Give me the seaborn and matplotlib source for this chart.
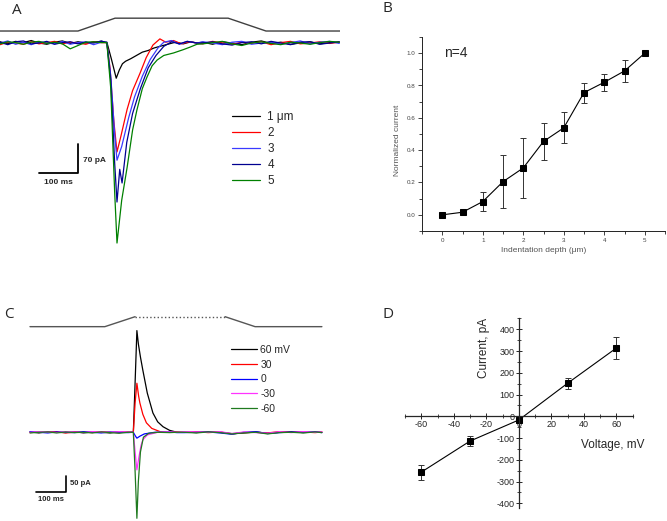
import numpy as np
import pandas as pd
import seaborn as sns
import matplotlib.pyplot as plt

sns.set_style("ticks")
plt.rcParams['font.family'] = ['Liberation Sans', 'DejaVu Sans']
plt.rcParams['axes.unicode_minus'] = False

# ---------------- Panel A: traces at 5 indentation depths (ms, pA)
a_pre_t = [0, 20, 40, 60, 80, 100, 120, 140, 160, 180, 200, 220, 240, 260]
a_post_t = [520, 545, 570, 595, 620, 645, 670, 695, 720, 745, 770, 795, 820, 845, 870]

a_labels = ['1 \u03bcm', '2', '3', '4', '5']
a_colors = ['#000000', '#ff0000', '#3a3aff', '#000090', '#008000']

a_pre = [
    [3, -2, 4, 1, 6, 0, -3, 2, 5, -1, 3, 0, 2, 4],
    [-4, 2, 0, -3, 3, -2, 1, 4, -2, 2, 0, -3, 3, 1],
    [0, 5, -3, 2, -4, 3, 0, -2, 4, -3, 1, 3, -4, 2],
    [2, -4, 3, 5, -2, 0, 4, -3, 1, 3, -2, 2, 0, 5],
    [-2, 3, 1, -3, 2, 4, -1, 2, -2, -14, -6, 2, 3, 1],
]
a_trans_t = [
    [274, 286, 298, 306, 314, 322, 335, 350, 365, 380, 395, 410, 430, 450, 470, 490, 505],
    [274, 282, 292, 300, 310, 326, 340, 359, 375, 392, 410, 425, 445, 465, 485, 505],
    [274, 284, 294, 300, 312, 330, 345, 365, 385, 405, 420, 440, 460, 480, 505],
    [274, 284, 294, 300, 307, 313, 325, 340, 360, 380, 400, 420, 440, 460, 480, 505],
    [274, 284, 294, 300, 312, 326, 340, 351, 365, 377, 390, 403, 420, 445, 470, 487, 505],
]
a_trans_i = [
    [2, -40, -85, -65, -50, -44, -38, -30, -22, -18, -12, -8, -3, 2, -2, 3, 0],
    [1, -60, -190, -263, -225, -160, -115, -73, -35, -5, 10, 2, 6, -2, 3, 0],
    [2, -80, -220, -283, -250, -180, -130, -80, -40, -12, 2, 6, -3, 4, 0],
    [0, -90, -290, -384, -305, -338, -240, -170, -110, -60, -30, -8, 3, -2, 4, 0],
    [1, -110, -360, -483, -380, -300, -210, -162, -110, -82, -55, -41, -30, -24, -16, -10, -3],
]
a_post = [
    [2, -3, 3, 0, -4, 2, 5, -1, 2, -3, 0, 3, -2, 1, 2],
    [-2, 4, 0, -3, 2, -1, 3, -4, 1, 4, -2, 0, 3, -1, 2],
    [3, 0, -4, 2, 4, -3, 0, 2, -3, 1, 5, -2, 2, 4, -1],
    [0, 3, -2, -5, 1, 3, -2, 4, 0, -4, 2, 3, -3, 0, 3],
    [-2, 1, 4, -2, -6, 0, 3, -1, -4, 2, 0, -3, 1, 4, 2],
]
a_stim_t = [0, 200, 295, 585, 682, 872]
a_stim = [29, 29, 60, 60, 29, 29]

# ---------------- Panel B: normalized current vs indentation depth
b_depth = [0, 0.5, 1, 1.5, 2, 2.5, 3, 3.5, 4, 4.5, 5]
b_mean = [0.0, 0.016, 0.082, 0.205, 0.29, 0.454, 0.538, 0.756, 0.82, 0.89, 1.0]
b_err = [0.0, 0.01, 0.058, 0.165, 0.185, 0.117, 0.095, 0.062, 0.052, 0.068, 0.0]

# ---------------- Panel C: traces at 5 holding potentials (ms, pA)
c_pre_t = [0, 30, 60, 90, 120, 150, 180, 210, 240, 270, 300, 330]
c_post_t = [520, 560, 600, 640, 680, 720, 760, 800, 840, 880, 920, 960, 983]

c_labels = ['60 mV', '30', '0', '-30', '-60']
c_colors = ['#000000', '#ff0000', '#0000ff', '#ff33ff', '#1f7a1f']

c_pre = [
    [1, -2, 2, 0, -1, 2, -2, 1, 0, -2, 2, 0],
    [-1, 1, 0, 2, -2, 0, 1, -1, 2, 0, -1, 1],
    [2, 0, -2, 1, 0, -1, 2, 0, -2, 1, 0, -1],
    [0, 2, 1, -1, 2, 1, -1, 2, 1, 0, 2, 1],
    [-2, 0, 1, -2, 1, -1, 0, -2, 1, -1, -3, 0],
]
c_trans_t = [
    [348, 352, 360, 365, 372, 380, 395, 414, 430, 448, 470, 495],
    [348, 354, 360, 366, 370, 380, 392, 410, 438, 470, 495],
    [348, 354, 360, 370, 385, 420, 470, 495],
    [348, 354, 360, 366, 374, 380, 395, 430, 470, 495],
    [348, 354, 360, 365, 372, 382, 400, 430, 470, 495],
]
c_trans_i = [
    [0, 100, 311, 270, 230, 190, 120, 59, 32, 17, 6, 0],
    [0, 90, 150, 110, 90, 55, 29, 12, 2, 0, 1],
    [0, -10, -18, -12, -5, 0, 1, -1],
    [0, -60, -115, -80, -40, -23, -8, 0, 1, 0],
    [0, -120, -263, -150, -60, -15, -3, 0, -1, 0],
]
c_post = [
    [1, -1, 2, 0, -4, -2, 1, -3, 0, 2, -1, 1, 0],
    [0, 2, -1, 1, -5, -1, 0, -2, 2, 0, 1, -1, 1],
    [-1, 0, 1, -2, -6, 0, 2, -4, -1, 1, 0, 2, -1],
    [2, 1, 0, 2, -4, 1, -1, -3, 2, -1, 2, 0, 1],
    [0, -2, 1, -1, -5, -2, 0, -5, -1, 0, -2, 1, -1],
]
c_stim_t = [0, 252, 354, 657, 758, 983]
c_stim = [323, 323, 353.5, 353.5, 323, 323]

# ---------------- Panel D: I-V relation
d_volt = [-60, -30, 0, 30, 60]
d_curr = [-257, -114, -17, 152, 314]
d_err = [35, 23, 0, 26, 51]

W, H = 667, 521
fig = plt.figure(figsize=(W / 100, H / 100), dpi=100)


def rect(left, top, right, bottom):
    return [left / W, 1 - bottom / H, (right - left) / W, (bottom - top) / H]


def trace_df(pre_t, pre, tt, ti, post_t, post):
    return pd.DataFrame({'t': list(pre_t) + list(tt) + list(post_t),
                         'i': list(pre) + list(ti) + list(post)})


# ---- A
axA = fig.add_axes(rect(0, 0, 340, 260))
sns.lineplot(x=a_stim_t, y=a_stim, ax=axA, color='#404040', lw=1.0)
for k in range(5):
    d = trace_df(a_pre_t, a_pre[k], a_trans_t[k], a_trans_i[k], a_post_t, a_post[k])
    sns.lineplot(data=d, x='t', y='i', ax=axA, color=a_colors[k], lw=0.9,
                 sort=False, estimator=None, label=a_labels[k])
axA.plot([100, 200, 200], [-314, -314, -244], color='black', lw=1.3)
axA.text(213, -283, '70 pA', fontsize=6, fontweight='bold', va='center', ha='left')
axA.text(151, -338, '100 ms', fontsize=6, fontweight='bold', va='center', ha='center')
axA.set_xlim(0, 871.8)
axA.set_ylim(-524, 103.9)
axA.axis('off')
axA.legend(loc='upper left', bbox_to_anchor=(232 / 340, 1 - 111 / 260), frameon=False,
           fontsize=8.5, handlelength=2.4, handletextpad=0.6, labelspacing=0.34,
           borderpad=0, borderaxespad=0)

# ---- B
axB = fig.add_axes(rect(422, 37, 665, 231))
axB.errorbar(b_depth, b_mean, yerr=b_err, fmt='none', ecolor='#333333', elinewidth=0.7,
             capsize=2.5, capthick=0.7)
sns.lineplot(x=b_depth, y=b_mean, ax=axB, color='black', lw=0.8, marker='s',
             markersize=4, markeredgecolor='black')
axB.set_xlim(-0.5, 5.5)
axB.set_ylim(-0.1, 1.1)
axB.set_xticks([0, 1, 2, 3, 4, 5])
axB.set_xticks([-0.5, 0.5, 1.5, 2.5, 3.5, 4.5, 5.5], minor=True)
axB.set_yticks([0.0, 0.2, 0.4, 0.6, 0.8, 1.0])
axB.set_yticks([-0.1, 0.1, 0.3, 0.5, 0.7, 0.9, 1.1], minor=True)
axB.yaxis.set_major_formatter(plt.FormatStrFormatter('%.1f'))
axB.tick_params(which='major', length=3, width=0.6, labelsize=4.5, labelcolor='#444444',
                color='#222222', pad=2)
axB.tick_params(which='minor', length=2, width=0.6, color='#222222')
for s in ['top', 'right']:
    axB.spines[s].set_visible(False)
for s in ['left', 'bottom']:
    axB.spines[s].set_linewidth(0.7)
    axB.spines[s].set_color('#222222')
axB.set_xlabel('Indentation depth (\u03bcm)', fontsize=6, color='#555555', labelpad=3)
axB.set_ylabel('Normalized current', fontsize=6, color='#555555')
axB.yaxis.set_label_coords(-0.088, 0.47)
axB.text(0.05, 1.0, 'n=4', fontsize=10, va='center', ha='left')

# ---- C
axC = fig.add_axes(rect(0, 280, 340, 521))
sns.lineplot(x=c_stim_t[:3], y=c_stim[:3], ax=axC, color='#555555', lw=1.0)
sns.lineplot(x=c_stim_t[2:4], y=c_stim[2:4], ax=axC, color='#555555', lw=1.0, linestyle=':')
sns.lineplot(x=c_stim_t[3:], y=c_stim[3:], ax=axC, color='#555555', lw=1.0)
for k in range(5):
    d = trace_df(c_pre_t, c_pre[k], c_trans_t[k], c_trans_i[k], c_post_t, c_post[k])
    sns.lineplot(data=d, x='t', y='i', ax=axC, color=c_colors[k], lw=0.9,
                 sort=False, estimator=None, label=c_labels[k])
axC.plot([20.2, 120.2, 120.2], [-183.5, -183.5, -133.5], color='black', lw=1.2)
axC.text(134.7, -158, '50 pA', fontsize=5.5, fontweight='bold', va='center', ha='left')
axC.text(70, -207, '100 ms', fontsize=5.5, fontweight='bold', va='center', ha='center')
axC.set_xlim(-101, 1044)
axC.set_ylim(-271.3, 465.7)
axC.axis('off')
axC.legend(loc='upper left', bbox_to_anchor=(231 / 340, (521 - 345) / 241), frameon=False,
           fontsize=7.5, handlelength=2.5, handletextpad=0.3, labelspacing=0.45,
           borderpad=0, borderaxespad=0)

# ---- D
axD = fig.add_axes(rect(405, 318.4, 632.7, 507.6))
axD.errorbar(d_volt, d_curr, yerr=d_err, fmt='none', ecolor='#333333', elinewidth=0.7,
             capsize=2.5, capthick=0.7)
sns.lineplot(x=d_volt, y=d_curr, ax=axD, color='black', lw=0.8, marker='s',
             markersize=4, markeredgecolor='black')
axD.set_xlim(-70, 70)
axD.set_ylim(-420, 450)
axD.spines['left'].set_position(('data', 0))
axD.spines['bottom'].set_position(('data', 0))
for s in ['top', 'right']:
    axD.spines[s].set_visible(False)
for s in ['left', 'bottom']:
    axD.spines[s].set_linewidth(0.9)
axD.set_xticks([-60, -40, -20, 0, 20, 40, 60])
axD.set_xticks([-70, -50, -30, -10, 10, 30, 50, 70], minor=True)
axD.set_yticks([-400, -300, -200, -100, 0, 100, 200, 300, 400])
axD.set_yticks([-350, -250, -150, -50, 50, 150, 250, 350, 450], minor=True)
axD.tick_params(which='major', direction='inout', length=4, width=0.7, labelsize=6.5, pad=1)
axD.tick_params(which='minor', direction='inout', length=2.5, width=0.6)
axD.set_xlabel('Voltage, mV', fontsize=8.5)
axD.set_ylabel('Current, pA', fontsize=8.5)
axD.xaxis.set_label_coords(0.913, 0.363)
axD.yaxis.set_label_coords(0.373, 0.844)

# panel letters
fig.text(12 / W, 1 - 10 / H, 'A', fontsize=11, va='center', ha='left', family='Open Sans')
fig.text(382 / W, 1 - 9 / H, 'B', fontsize=11, va='center', ha='left', family='Open Sans')
fig.text(4 / W, 1 - 315 / H, 'C', fontsize=11, va='center', ha='left', family='Open Sans')
fig.text(383 / W, 1 - 314 / H, 'D', fontsize=11, va='center', ha='left', family='Open Sans')

fig.savefig('out.png', dpi=100)
